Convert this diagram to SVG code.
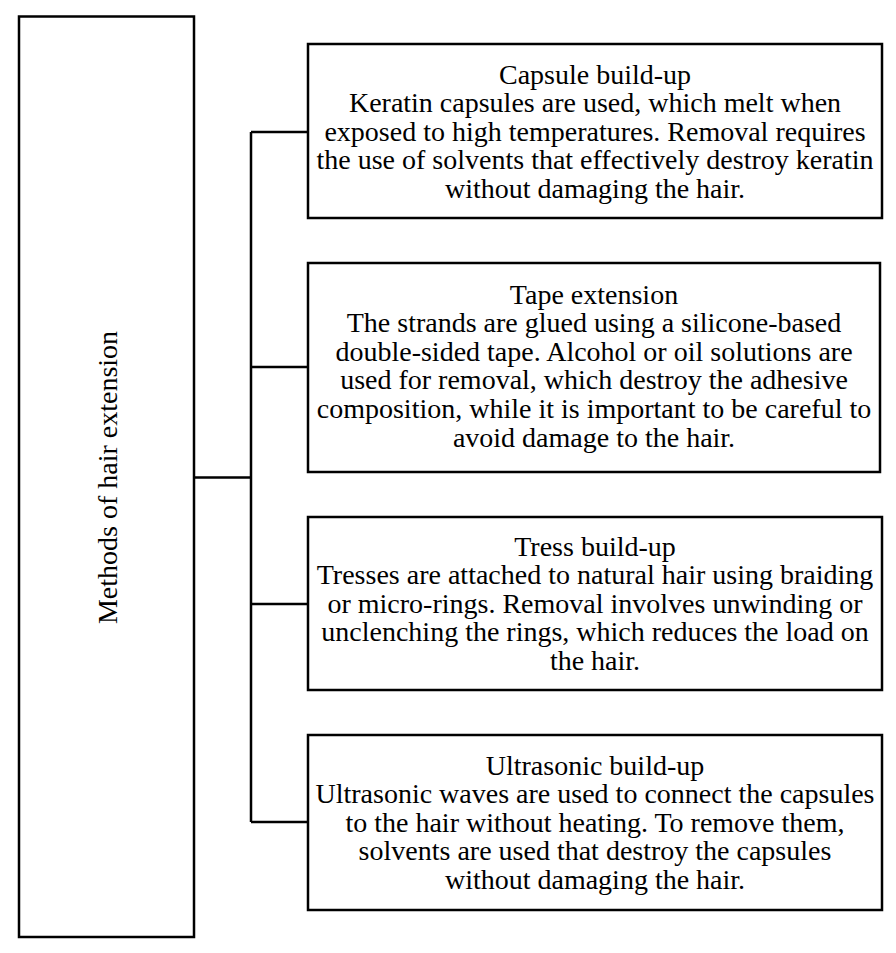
<svg xmlns="http://www.w3.org/2000/svg" width="896" height="953" viewBox="0 0 896 953">
<style>
.box{fill:#fff;stroke:#000;stroke-width:2.5}
.line{fill:none;stroke:#000;stroke-width:2.5}
text{font-family:"Liberation Serif","Times New Roman",serif;font-size:28px;fill:#000;text-anchor:middle}
</style>
<rect width="896" height="953" fill="#fff"/>
<g id="connectors">
<path class="line" d="M194,477.5 H251 M251,132 V822 M251,132 H308 M251,367 H308 M251,604 H308 M251,822 H308"/>
</g>
<g id="root">
<rect class="box" x="19" y="16.5" width="175" height="920.5"/>
<text transform="translate(117,477.5) rotate(-90)">Methods of hair extension</text>
</g>
<g id="capsule">
<rect class="box" x="308" y="44" width="574" height="174"/>
<text x="595" y="84">Capsule build-up</text>
<text x="595" y="112">Keratin capsules are used, which melt when</text>
<text x="595" y="141">exposed to high temperatures. Removal requires</text>
<text x="595" y="169">the use of solvents that effectively destroy keratin</text>
<text x="595" y="198">without damaging the hair.</text>
</g>
<g id="tape">
<rect class="box" x="308" y="263" width="572" height="209"/>
<text x="594" y="304">Tape extension</text>
<text x="594" y="332">The strands are glued using a silicone-based</text>
<text x="594" y="361">double-sided tape. Alcohol or oil solutions are</text>
<text x="594" y="389">used for removal, which destroy the adhesive</text>
<text x="594" y="418">composition, while it is important to be careful to</text>
<text x="594" y="447">avoid damage to the hair.</text>
</g>
<g id="tress">
<rect class="box" x="308" y="517" width="574" height="173"/>
<text x="595" y="556">Tress build-up</text>
<text x="595" y="584">Tresses are attached to natural hair using braiding</text>
<text x="595" y="613">or micro-rings. Removal involves unwinding or</text>
<text x="595" y="641">unclenching the rings, which reduces the load on</text>
<text x="595" y="670">the hair.</text>
</g>
<g id="ultrasonic">
<rect class="box" x="308" y="735" width="574" height="175"/>
<text x="595" y="775">Ultrasonic build-up</text>
<text x="595" y="803">Ultrasonic waves are used to connect the capsules</text>
<text x="595" y="832">to the hair without heating. To remove them,</text>
<text x="595" y="860">solvents are used that destroy the capsules</text>
<text x="595" y="889">without damaging the hair.</text>
</g>
</svg>
